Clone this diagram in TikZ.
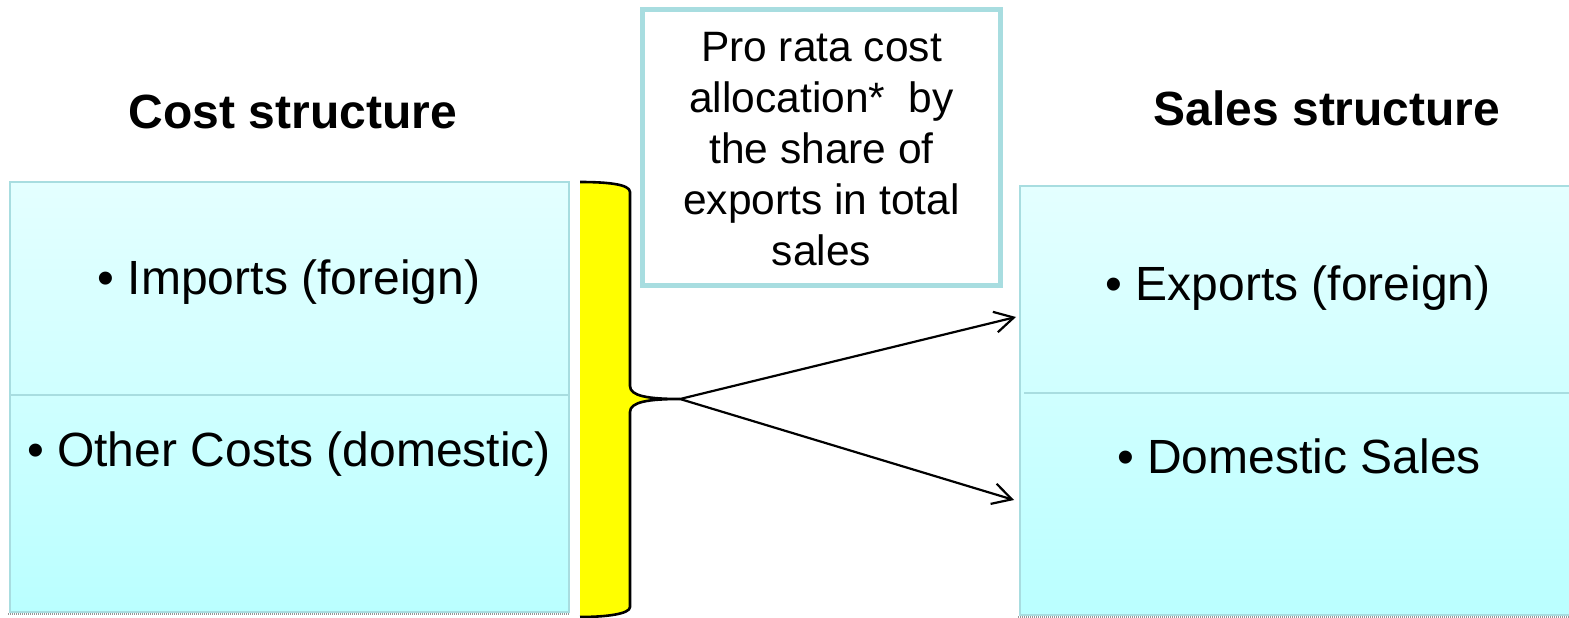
\documentclass[tikz,border=0pt]{standalone}
\usepackage{fontspec}
\setmainfont{Liberation Sans}
\usetikzlibrary{arrows.meta}

\definecolor{panelline}{RGB}{168,221,224}
\definecolor{paneltop}{RGB}{228,255,255}
\definecolor{panelbottom}{RGB}{186,255,255}
\definecolor{shadowgray}{RGB}{150,150,150}
\definecolor{braceyellow}{RGB}{255,255,0}

% right curly brace, opening towards the cost panel
\newcommand\bracecurve{(580,182) .. controls (606,182) and (630,184) .. (630,192)
  -- (630,386) .. controls (630,396) and (648,399) .. (680,399)
  .. controls (648,399) and (630,402) .. (630,412)
  -- (630,607) .. controls (630,614) and (606,617) .. (580,617)}

\begin{document}
\begin{tikzpicture}[x=1pt,y=-1pt,
  panel/.style={draw=panelline, line width=2pt, top color=paneltop,
    bottom color=panelbottom, inner sep=0pt, anchor=north west},
  divider/.style={draw=panelline, line width=1.6pt},
  shadowline/.style={draw=shadowgray, line width=1.6pt, dash pattern=on 1pt off 1pt},
  heading/.style={font=\fontsize{48}{56}\selectfont\bfseries, anchor=base, inner sep=0pt},
  item/.style={font=\fontsize{48}{56}\selectfont, anchor=base, inner sep=0pt},
  notebox/.style={draw=panelline, line width=5pt, fill=white, inner sep=0pt,
    minimum width=358pt, minimum height=276pt},
  notetext/.style={font=\fontsize{42.5}{51}\selectfont, align=center, inner sep=0pt},
  link/.style={line width=2.2pt, -{Straight Barb[length=19pt,width=21pt,line width=2.2pt]}}]

\useasboundingbox (0,0) rectangle (1569,618);

% cost panel
\node[panel, minimum width=559pt, minimum height=430pt] (costbox) at (9,181) {};
\draw[divider] (costbox.west |- 0,395) -- (costbox.east |- 0,395);
\draw[shadowline] (8,614) -- (569,614);

% sales panel (runs past the right edge)
\node[panel, minimum width=559pt, minimum height=429pt] (salesbox) at (1019,185) {};
\draw[divider] (1024,393) -- (1580,393);
\draw[shadowline] (1018,617) -- (1569,617);

% headings
\node[heading] (costhead) at (293,128) {Cost structure};
\node[heading] (saleshead) at (1327,125) {Sales structure};

% panel entries
\node[item] (imports) at (289,294) {• Imports (foreign)};
\node[item] (othercosts) at (289,466) {• Other Costs (domestic)};
\node[item] (exports) at (1298,300) {• Exports (foreign)};
\node[item] (domsales) at (1299,473) {• Domestic Sales};

% allocation note
\node[notebox] (note) at (821.5,147.5) {};
\node[notetext] (notelabel) at (821.5,149) {Pro rata cost\\allocation*~~by\\the share of\\exports in total\\sales};

% brace gathering all costs
\fill[braceyellow] \bracecurve -- cycle;
\draw[line width=2.6pt, line join=round] \bracecurve;
\coordinate (bracetip) at (680,399);

% allocation arrows
\coordinate (exptarget) at (1016,317);
\coordinate (domtarget) at (1014,500);
\draw[link] (bracetip) -- (exptarget);
\draw[link] (bracetip) -- (domtarget);
\end{tikzpicture}
\end{document}
